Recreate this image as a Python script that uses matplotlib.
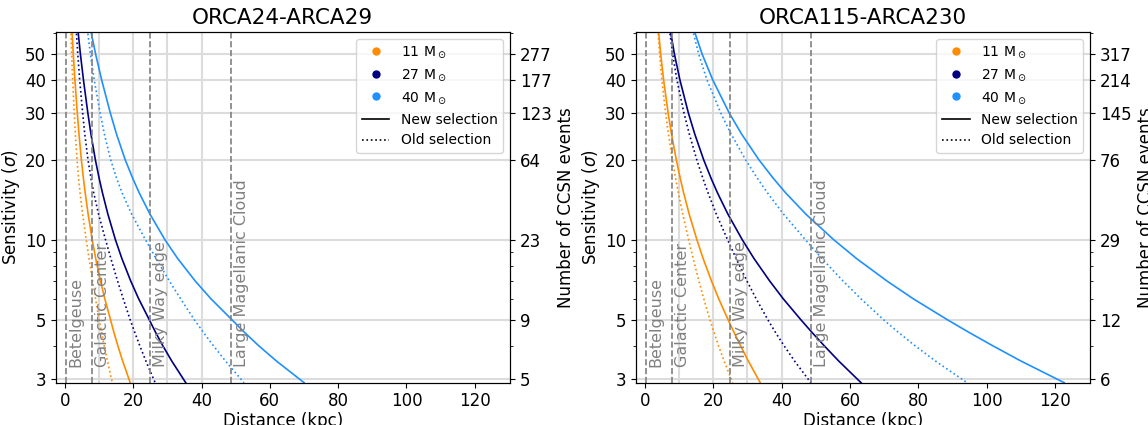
import matplotlib
matplotlib.use("Agg")
import matplotlib.pyplot as plt
from matplotlib.lines import Line2D
from matplotlib.ticker import NullFormatter

# sensitivity levels (sigma) at which the distances were read
sigma = [62, 50, 40, 30, 25, 20, 17, 15, 12.5, 10, 8.5, 7, 6, 5, 4.5, 4, 3.5, 2.9]

# ORCA24-ARCA29, distance in kpc
l_11_new = [2.05, 2.45, 2.93, 3.63, 4.13, 4.82, 5.43, 5.95, 6.80, 8.0, 9.02, 10.42, 11.68, 13.36, 14.32, 15.48, 16.91, 19.12]
l_11_old = [1.74, 1.98, 2.27, 2.73, 3.06, 3.55, 4.02, 4.44, 5.18, 6.25, 7.07, 8.10, 8.97, 10.04, 10.72, 11.51, 12.45, 13.88]
l_27_new = [3.79, 4.54, 5.43, 6.72, 7.63, 8.92, 10.05, 11.01, 12.58, 14.8, 16.69, 19.27, 21.6, 24.72, 26.5, 28.64, 31.28, 35.38]
l_27_old = [3.31, 3.77, 4.33, 5.20, 5.82, 6.76, 7.65, 8.45, 9.85, 11.9, 13.46, 15.42, 17.08, 19.12, 20.41, 21.91, 23.71, 26.43]
l_40_new = [7.50, 8.99, 10.75, 13.30, 15.11, 17.66, 19.89, 21.79, 24.90, 29.3, 33.04, 38.15, 42.76, 48.93, 52.46, 56.70, 61.93, 70.04]
l_40_old = [6.57, 7.47, 8.58, 10.31, 11.55, 13.41, 15.17, 16.77, 19.54, 23.6, 26.70, 30.59, 33.87, 37.92, 40.48, 43.45, 47.01, 52.42]

# ORCA115-ARCA230
r_11_new = [3.92, 4.60, 5.45, 6.78, 7.77, 9.17, 10.34, 11.33, 12.94, 15.2, 17.03, 19.47, 21.59, 24.35, 26.02, 27.96, 30.25, 33.74]
r_11_old = [3.78, 4.28, 4.94, 6.04, 6.87, 8.03, 8.98, 9.78, 11.05, 12.8, 14.11, 15.79, 17.22, 19.03, 20.17, 21.52, 23.16, 25.68]
r_27_new = [7.36, 8.62, 10.22, 12.71, 14.58, 17.19, 19.39, 21.25, 24.27, 28.5, 31.93, 36.51, 40.48, 45.66, 48.79, 52.43, 56.72, 63.26]
r_27_old = [7.15, 8.10, 9.34, 11.42, 12.98, 15.17, 16.98, 18.48, 20.88, 24.2, 26.68, 29.86, 32.55, 35.99, 38.13, 40.69, 43.79, 48.56]
r_40_new = [14.27, 16.73, 19.83, 24.67, 28.29, 33.36, 37.63, 41.23, 47.09, 55.3, 61.96, 70.85, 78.55, 88.59, 94.67, 101.73, 110.06, 122.75]
r_40_old = [13.88, 15.73, 18.14, 22.19, 25.21, 29.47, 32.97, 35.9, 40.56, 47.0, 51.81, 57.99, 63.22, 69.89, 74.06, 79.02, 85.04, 94.31]

masses = ["11", "27", "40"]
colors = ["darkorange", "navy", "dodgerblue"]

landmarks = ["Betelgeuse", "Galactic Center", "Milky Way edge", "Large Magellanic Cloud"]
landmark_d = [0.2, 7.8, 25.0, 48.5]

yticks = [3, 5, 10, 20, 30, 40, 50]
left_events = ["5", "9", "23", "64", "123", "177", "277"]
right_events = ["6", "12", "29", "76", "145", "214", "317"]

panels = [
    ("ORCA24-ARCA29", [l_11_new, l_27_new, l_40_new], [l_11_old, l_27_old, l_40_old], left_events),
    ("ORCA115-ARCA230", [r_11_new, r_27_new, r_40_new], [r_11_old, r_27_old, r_40_old], right_events),
]

fig = plt.figure(figsize=(11.48, 4.25), dpi=100)
lefts = [0.0485, 0.5538]

for i, (title, new, old, events) in enumerate(panels):
    ax = fig.add_axes([lefts[i], 0.0995, 0.3957, 0.825])
    ax.set_yscale("log")

    for yt in yticks:
        ax.axhline(yt, color="#dcdcdc", lw=1.5, zorder=0)
    for xg in [10, 20, 30, 40]:
        ax.axvline(xg, color="#dcdcdc", lw=1.5, zorder=0)

    for d, c in zip(new, colors):
        ax.plot(d, sigma, color=c, lw=1.2, ls="-")
    for d, c in zip(old, colors):
        ax.plot(d, sigma, color=c, lw=1.2, ls=":")

    for name, d in zip(landmarks, landmark_d):
        ax.axvline(d, color="grey", ls="--", lw=1.2)
        ax.text(d + 0.9, 3.33, name, rotation=90, color="grey",
                fontsize=11.5, ha="left", va="bottom")

    ax.set_xlim(-2.7, 130.3)
    ax.set_ylim(2.9, 60.5)
    ax.set_yticks(yticks)
    ax.set_yticklabels([str(v) for v in yticks])
    ax.yaxis.set_minor_formatter(NullFormatter())
    ax.set_xticks([0, 20, 40, 60, 80, 100, 120])
    ax.tick_params(labelsize=12)
    ax.set_xlabel("Distance (kpc)", fontsize=12, labelpad=1)
    ax.set_ylabel(r"Sensitivity ($\sigma$)", fontsize=12, labelpad=2)
    ax.set_title(title, fontsize=15.5)

    handles = [Line2D([], [], color=c, marker="o", ls="none", markersize=5) for c in colors]
    handles += [Line2D([], [], color="black", ls="-", lw=1.2),
                Line2D([], [], color="black", ls=":", lw=1.2)]
    labels = [m + r" M$_\odot$" for m in masses] + ["New selection", "Old selection"]
    ax.legend(handles, labels, loc="upper right", fontsize=10)

    ax2 = ax.twinx()
    ax2.set_yscale("log")
    ax2.set_ylim(ax.get_ylim())
    ax2.set_yticks(yticks)
    ax2.set_yticklabels(events)
    ax2.yaxis.set_minor_formatter(NullFormatter())
    ax2.tick_params(labelsize=12)
    ax2.set_ylabel("Number of CCSN events", fontsize=12)

fig.savefig("out.png", dpi=100)
